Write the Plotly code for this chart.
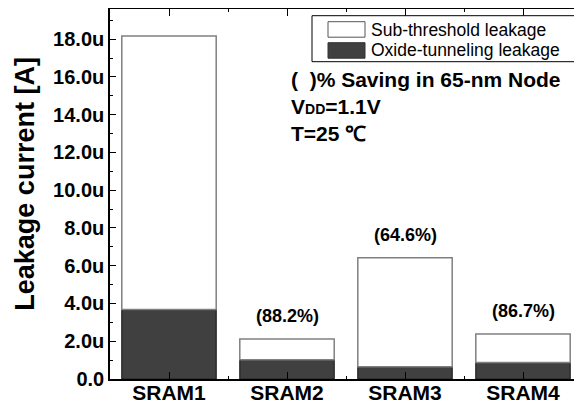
import plotly.graph_objects as go

# ---- data (leakage current in micro-amps) ----
categories = ["SRAM1", "SRAM2", "SRAM3", "SRAM4"]
total_leak = [18.17, 2.12, 6.42, 2.38]
oxide_leak = [3.68, 1.02, 0.65, 0.88]
sub_leak = [t - o for t, o in zip(total_leak, oxide_leak)]
savings = [None, "88.2", "64.6", "86.7"]
ytick_vals = [0, 2, 4, 6, 8, 10, 12, 14, 16, 18]
ytick_text = ["0.0", "2.0u", "4.0u", "6.0u", "8.0u", "10.0u", "12.0u", "14.0u", "16.0u", "18.0u"]

# page has an 8px body margin; figure is sized to fill the rest of the window
OFF = 8
W, H = 582 - OFF, 409 - OFF
PL, PR, PT, PB = 110, 582, 9.3, 379.3          # plot area in page pixels
L, R, T, B = PL - OFF, 0, 1, H - (PB - OFF)

def px(x):
    return (x - PL) / (PR - PL)

def py(y):
    return (PB - y) / (PB - PT)

FONT = "Liberation Sans, Arial, sans-serif"
DARK = "#404040"

xs = list(range(len(categories)))

fig = go.Figure()
fig.add_trace(go.Bar(
    x=xs, y=oxide_leak, name="Oxide-tunneling leakage",
    marker=dict(color=DARK, line=dict(color="#222222", width=1.2)),
    width=0.8, showlegend=False,
))
fig.add_trace(go.Bar(
    x=xs, y=sub_leak, base=oxide_leak, name="Sub-threshold leakage",
    marker=dict(color="white", line=dict(color="#808080", width=1.5)),
    width=0.8, showlegend=False,
))

annotations = []
for i, s in enumerate(savings):
    if s is None:
        continue
    annotations.append(dict(
        x=xs[i], y=total_leak[i], xref="x", yref="y", text=f"<b>({s}%)</b>",
        showarrow=False, yshift=23, font=dict(family=FONT, size=18, color="black"),
    ))

# legend (drawn manually to mimic wide swatches)
shapes = [
    dict(type="rect", xref="paper", yref="paper", x0=px(312), x1=px(576), y0=py(62), y1=py(16),
         line=dict(color="black", width=1), fillcolor="white", layer="above"),
    dict(type="rect", xref="paper", yref="paper", x0=px(328), x1=px(365), y0=py(37.5), y1=py(22),
         line=dict(color="#555555", width=1), fillcolor="white", layer="above"),
    dict(type="rect", xref="paper", yref="paper", x0=px(328), x1=px(365), y0=py(58.5), y1=py(43),
         line=dict(color="#333333", width=1), fillcolor=DARK, layer="above"),
]
annotations += [
    dict(x=px(369), y=py(30), xref="paper", yref="paper", text="Sub-threshold leakage",
         showarrow=False, xanchor="left", yanchor="middle",
         font=dict(family=FONT, size=17.5, color="black")),
    dict(x=px(369), y=py(50.5), xref="paper", yref="paper", text="Oxide-tunneling leakage",
         showarrow=False, xanchor="left", yanchor="middle",
         font=dict(family=FONT, size=17.5, color="black")),
    dict(x=px(289), y=py(80), xref="paper", yref="paper", text="<b>(  )% Saving in 65-nm Node</b>",
         showarrow=False, xanchor="left", yanchor="middle",
         font=dict(family=FONT, size=21, color="black")),
    dict(x=px(289), y=py(107), xref="paper", yref="paper",
         text="<b>V<span style='font-size:14px'>DD</span>=1.1V</b>",
         showarrow=False, xanchor="left", yanchor="middle",
         font=dict(family=FONT, size=21, color="black")),
    dict(x=px(289), y=py(134), xref="paper", yref="paper", text="<b>T=25 ℃</b>",
         showarrow=False, xanchor="left", yanchor="middle",
         font=dict(family=FONT, size=21, color="black")),
    dict(x=px(25), y=py(184), xref="paper", yref="paper", text="<b>Leakage current [A]</b>",
         showarrow=False, textangle=-90, xanchor="center", yanchor="middle",
         font=dict(family=FONT, size=27, color="black")),
]

fig.update_layout(
    width=W, height=H,
    margin=dict(l=L, r=R, t=T, b=B, pad=0, autoexpand=False),
    paper_bgcolor="white", plot_bgcolor="white",
    barmode="overlay",
    showlegend=False,
    font=dict(family=FONT, color="black"),
    shapes=shapes,
    annotations=annotations,
)
fig.update_xaxes(
    range=[-0.5, 3.5], tickmode="array", tickvals=xs,
    ticktext=[f"<b>{c}</b>" for c in categories],
    tickfont=dict(family=FONT, size=21, color="black"),
    ticks="inside", ticklen=7, tickwidth=1.2, tickcolor="black",
    showline=True, linecolor="black", linewidth=1.5, mirror="ticks",
    showgrid=False, zeroline=False, automargin=False, ticklabelstandoff=-6,
    minor=dict(tick0=0.5, dtick=1, ticks="inside", ticklen=3, tickcolor="black", showgrid=False),
)
fig.update_yaxes(
    range=[0, 19.6], tickmode="array", tickvals=ytick_vals,
    ticktext=[f"<b>{t}</b>" for t in ytick_text],
    tickfont=dict(family=FONT, size=20, color="black"),
    ticks="inside", ticklen=6, tickwidth=1.2, tickcolor="black",
    showline=True, linecolor="black", linewidth=1.5, mirror="ticks",
    showgrid=False, zeroline=False, automargin=False,
    minor=dict(tick0=0, dtick=1, ticks="inside", ticklen=3, tickcolor="black", showgrid=False),
)

fig.write_html("out.html")
